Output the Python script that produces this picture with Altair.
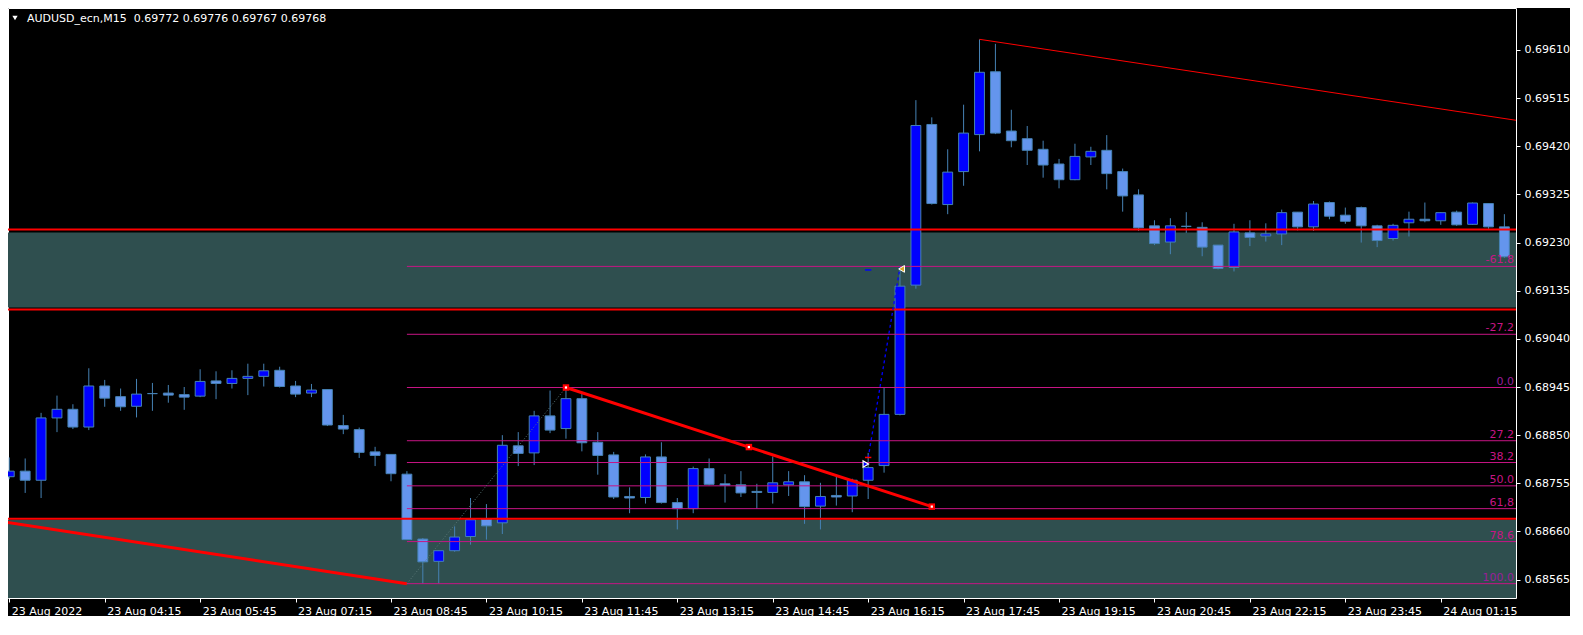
import altair as alt
import pandas as pd

# ---------------- data ----------------
opens = [0.68768, 0.68779, 0.68761, 0.68884, 0.68901, 0.68866, 0.68947, 0.68926, 0.68907, 0.68932,
         0.68933, 0.68930, 0.68927, 0.68957, 0.68952, 0.68962, 0.68966, 0.68978, 0.68947, 0.68933,
         0.68940, 0.68869, 0.68861, 0.68817, 0.68812, 0.68773, 0.68645, 0.68601, 0.68622, 0.68650,
         0.68684, 0.68677, 0.68829, 0.68815, 0.68888, 0.68863, 0.68922, 0.68836, 0.68811, 0.68729,
         0.68727, 0.68807, 0.68717, 0.68705, 0.68784, 0.68754, 0.68752, 0.68739, 0.68737, 0.68752,
         0.68758, 0.68710, 0.68731, 0.68730, 0.68761, 0.68790, 0.68891, 0.69146, 0.69463, 0.69305,
         0.69370, 0.69443, 0.69567, 0.69450, 0.69435, 0.69414, 0.69385, 0.69354, 0.69399, 0.69412,
         0.69370, 0.69324, 0.69263, 0.69231, 0.69262, 0.69260, 0.69225, 0.69181, 0.69249, 0.69243,
         0.69247, 0.69290, 0.69261, 0.69309, 0.69284, 0.69299, 0.69263, 0.69238, 0.69269, 0.69276,
         0.69273, 0.69290, 0.69266, 0.69307, 0.69261]
highs = [0.68806, 0.68804, 0.68894, 0.68928, 0.68911, 0.68982, 0.68959, 0.68942, 0.68961, 0.68953,
         0.68949, 0.68945, 0.68980, 0.68976, 0.68978, 0.68991, 0.68991, 0.68985, 0.68957, 0.68951,
         0.68941, 0.68890, 0.68865, 0.68827, 0.68812, 0.68779, 0.68647, 0.68622, 0.68670, 0.68726,
         0.68714, 0.68850, 0.68856, 0.68898, 0.68938, 0.68944, 0.68931, 0.68856, 0.68817, 0.68747,
         0.68812, 0.68836, 0.68726, 0.68788, 0.68804, 0.68773, 0.68779, 0.68754, 0.68808, 0.68779,
         0.68771, 0.68756, 0.68768, 0.68764, 0.68815, 0.68943, 0.69181, 0.69511, 0.69477, 0.69414,
         0.69502, 0.69631, 0.69622, 0.69492, 0.69460, 0.69431, 0.69395, 0.69425, 0.69419, 0.69442,
         0.69376, 0.69335, 0.69274, 0.69278, 0.69290, 0.69270, 0.69225, 0.69267, 0.69274, 0.69268,
         0.69295, 0.69290, 0.69312, 0.69311, 0.69299, 0.69301, 0.69265, 0.69267, 0.69291, 0.69309,
         0.69290, 0.69293, 0.69309, 0.69307, 0.69286]
lows = [0.68763, 0.68736, 0.68726, 0.68856, 0.68862, 0.68860, 0.68906, 0.68898, 0.68885, 0.68898,
        0.68914, 0.68900, 0.68925, 0.68921, 0.68942, 0.68929, 0.68946, 0.68944, 0.68925, 0.68925,
        0.68868, 0.68852, 0.68805, 0.68789, 0.68759, 0.68644, 0.68557, 0.68557, 0.68620, 0.68634,
        0.68644, 0.68655, 0.68789, 0.68791, 0.68854, 0.68843, 0.68818, 0.68772, 0.68724, 0.68696,
        0.68715, 0.68715, 0.68664, 0.68696, 0.68751, 0.68717, 0.68728, 0.68705, 0.68715, 0.68730,
        0.68675, 0.68664, 0.68711, 0.68698, 0.68724, 0.68776, 0.68889, 0.69139, 0.69305, 0.69286,
        0.69342, 0.69410, 0.69444, 0.69418, 0.69383, 0.69358, 0.69337, 0.69353, 0.69383, 0.69335,
        0.69291, 0.69253, 0.69225, 0.69207, 0.69249, 0.69203, 0.69177, 0.69173, 0.69223, 0.69232,
        0.69225, 0.69254, 0.69253, 0.69276, 0.69267, 0.69230, 0.69221, 0.69234, 0.69242, 0.69270,
        0.69265, 0.69263, 0.69265, 0.69257, 0.69200]
closes = [0.68779, 0.68761, 0.68884, 0.68901, 0.68866, 0.68947, 0.68923, 0.68906, 0.68931, 0.68932,
          0.68929, 0.68925, 0.68956, 0.68952, 0.68962, 0.68966, 0.68977, 0.68946, 0.68931, 0.68939,
          0.68870, 0.68862, 0.68816, 0.68810, 0.68774, 0.68644, 0.68600, 0.68622, 0.68649, 0.68683,
          0.68671, 0.68830, 0.68814, 0.68888, 0.68860, 0.68922, 0.68835, 0.68810, 0.68728, 0.68726,
          0.68807, 0.68717, 0.68705, 0.68784, 0.68753, 0.68751, 0.68736, 0.68737, 0.68756, 0.68758,
          0.68709, 0.68729, 0.68728, 0.68761, 0.68786, 0.68891, 0.69144, 0.69461, 0.69307, 0.69369,
          0.69446, 0.69566, 0.69446, 0.69431, 0.69412, 0.69383, 0.69354, 0.69400, 0.69410, 0.69366,
          0.69322, 0.69259, 0.69228, 0.69263, 0.69262, 0.69221, 0.69179, 0.69251, 0.69240, 0.69247,
          0.69289, 0.69261, 0.69306, 0.69282, 0.69272, 0.69263, 0.69234, 0.69264, 0.69276, 0.69273,
          0.69289, 0.69265, 0.69308, 0.69261, 0.69202]

x_tick_bars = [0, 6, 12, 18, 24, 30, 36, 42, 48, 54, 60, 66, 72, 78, 84, 90]
x_tick_labels = ["23 Aug 2022", "23 Aug 04:15", "23 Aug 05:45", "23 Aug 07:15", "23 Aug 08:45",
                 "23 Aug 10:15", "23 Aug 11:45", "23 Aug 13:15", "23 Aug 14:45", "23 Aug 16:15",
                 "23 Aug 17:45", "23 Aug 19:15", "23 Aug 20:45", "23 Aug 22:15", "23 Aug 23:45",
                 "24 Aug 01:15"]
price_ticks = [0.68565, 0.68660, 0.68755, 0.68850, 0.68945, 0.69040, 0.69135, 0.69230,
               0.69325, 0.69420, 0.69515, 0.69610]

fib_prices = [0.69183, 0.69049, 0.68944, 0.68839, 0.68796, 0.68750, 0.68705, 0.68640, 0.68557]
fib_labels = ["-61.8", "-27.2", "0.0", "27.2", "38.2", "50.0", "61,8", "78.6", "100.0"]
fib_colors = ["#C71585", "#C71585", "#9A1E9A", "#C71585", "#C71585", "#C71585", "#C71585", "#C71585", "#9A1E9A"]
fib_start_bar = 25

zone_tops = [0.69250, 0.68683]
zone_bottoms = [0.69102, 0.68450]
red_levels = [0.69256, 0.69098, 0.68685]

tl_low_bars = [-2, 25]
tl_low_prices = [0.68687, 0.68557]
tl_top_bars = [61, 95]
tl_top_prices = [0.69631, 0.69470]
tl_mid_bars = [35, 46.5, 58]
tl_mid_prices = [0.68944, 0.688265, 0.68709]
fib_trend_bars = [25, 35]
fib_trend_prices = [0.68557, 0.68944]
trade_bars = [54, 56]
trade_prices = [0.68805, 0.69181]

title_text = "AUDUSD_ecn,M15\u00a0 0.69772 0.69776 0.69767 0.69768"

# ---------------- layout ----------------
W, H = 1508, 590
X_DOM = [-0.08, 94.73]
Y_DOM = [0.685287, 0.696928]
FONT = "DejaVu Sans"
FS = 11

xs = alt.Scale(domain=X_DOM, nice=False, zero=False)
ys = alt.Scale(domain=Y_DOM, nice=False, zero=False)

label_expr = "[" + ",".join("'%s'" % s for s in x_tick_labels) + "][round(datum.value/6)]"
x_axis = alt.Axis(values=x_tick_bars, labelExpr=label_expr, title=None, grid=False, domain=False,
                  tickSize=4, tickColor="white", labelColor="white", labelFont=FONT, labelFontSize=FS,
                  labelAlign="left", labelBaseline="top", labelPadding=3, labelOffset=2,
                  labelOverlap=False, labelFlush=False, orient="bottom")
y_axis = alt.Axis(values=price_ticks, format=".5f", orient="right", title=None, grid=False, domain=False,
                  tickSize=4, tickColor="white", labelColor="white", labelFont=FONT, labelFontSize=FS,
                  labelPadding=4, labelBaseline="middle", labelOverlap=False, labelFlush=False)


def X(field):
    return alt.X(field, type="quantitative", scale=xs, axis=x_axis)


def Y(field):
    return alt.Y(field, type="quantitative", scale=ys, axis=y_axis)


candles = pd.DataFrame({"i": list(range(len(opens))), "o": opens, "h": highs, "l": lows, "c": closes})

zones = pd.DataFrame({"top": zone_tops, "bot": zone_bottoms, "x0": [-2] * 2, "x1": [97] * 2})
zone_layer = alt.Chart(zones).mark_rect(color="#2F4F4F", clip=True).encode(
    x=X("x0"), x2="x1", y=Y("top"), y2="bot")

wicks = alt.Chart(candles).mark_rule(color="#4682B4", strokeWidth=1, clip=True).encode(
    x=X("i"), y=Y("l"), y2="h")

bodies = alt.Chart(candles).transform_calculate(
    xa="datum.i - 0.31", xb="datum.i + 0.31").mark_rect(
    stroke="#4682B4", strokeWidth=1, clip=True).encode(
    x=X("xa"), x2="xb", y=Y("o"), y2="c",
    fill=alt.condition("datum.c > datum.o", alt.value("#0000FF"), alt.value("#6495ED")))

fib = pd.DataFrame({"p": fib_prices, "lab": fib_labels, "col": fib_colors,
                    "x0": [fib_start_bar] * len(fib_prices), "x1": [97] * len(fib_prices)})
fib_lines = alt.Chart(fib).mark_rule(color="#C71585", strokeWidth=1, clip=True).encode(
    x=X("x0"), x2="x1", y=Y("p"))
fib_text = alt.Chart(fib).mark_text(align="right", baseline="bottom", dy=-1, font=FONT, fontSize=FS).encode(
    x=alt.value(W - 2), y=Y("p"), text="lab:N", color=alt.Color("col:N", scale=None))

reds = pd.DataFrame({"p": red_levels, "x0": [-2] * 3, "x1": [97] * 3})
red_lines = alt.Chart(reds).mark_rule(color="#FF0000", strokeWidth=2, clip=True).encode(
    x=X("x0"), x2="x1", y=Y("p"))


def seg(bars, prices, **kw):
    df = pd.DataFrame({"i": bars, "p": prices})
    return alt.Chart(df).mark_line(clip=True, **kw).encode(x=X("i"), y=Y("p"))


tl_low = seg(tl_low_bars, tl_low_prices, color="#FF0000", strokeWidth=3)
tl_top = seg(tl_top_bars, tl_top_prices, color="#FF0000", strokeWidth=1)
tl_mid = seg(tl_mid_bars, tl_mid_prices, color="#FF0000", strokeWidth=3)
fib_trend = seg(fib_trend_bars, fib_trend_prices, color="#5A7878", strokeWidth=1, strokeDash=[1, 2])
trade_line = seg(trade_bars, trade_prices, color="#0000FF", strokeWidth=1.3, strokeDash=[3, 3])

mid_pts = pd.DataFrame({"i": tl_mid_bars, "p": tl_mid_prices})
sq_outer = alt.Chart(mid_pts).mark_point(shape="square", filled=True, color="#FF0000", size=42, opacity=1).encode(
    x=X("i"), y=Y("p"))
sq_inner = alt.Chart(mid_pts).mark_point(shape="square", filled=True, color="white", size=5, opacity=1).encode(
    x=X("i"), y=Y("p"))

close_mark = alt.Chart(pd.DataFrame({"i": [56.1], "p": [0.69178]})).mark_point(
    shape="triangle-left", filled=True, fill="#DAA520", stroke="white", strokeWidth=1, size=45, opacity=1).encode(
    x=X("i"), y=Y("p"))
open_mark = alt.Chart(pd.DataFrame({"i": [53.85], "p": [0.68793]})).mark_point(
    shape="triangle-right", filled=True, fill="#0000FF", stroke="white", strokeWidth=1.2, size=40, opacity=1).encode(
    x=X("i"), y=Y("p"))
dashes = pd.DataFrame({"x0": [53.8, 53.8], "x1": [54.2, 54.2], "p": [0.69176, 0.68806],
                       "col": ["#0000FF", "#FF0000"]})
dash_layer = alt.Chart(dashes).mark_rule(strokeWidth=1.5).encode(
    x=X("x0"), x2="x1", y=Y("p"), color=alt.Color("col:N", scale=None))

title_df = pd.DataFrame({"t": [title_text]})
title_layer = alt.Chart(title_df).mark_text(align="left", baseline="middle", font=FONT, fontSize=FS,
                                            color="white").encode(
    x=alt.value(19), y=alt.value(11), text="t:N")
tri_layer = alt.Chart(title_df).mark_point(shape="triangle-down", filled=True, color="white", size=28,
                                           opacity=1).encode(x=alt.value(7), y=alt.value(10))

chart = alt.layer(
    zone_layer, wicks, bodies, fib_lines, fib_text, red_lines,
    tl_low, tl_top, tl_mid, fib_trend, trade_line,
    sq_outer, sq_inner, close_mark, open_mark, dash_layer,
    title_layer, tri_layer
).properties(width=W, height=H, background="black", padding=0).configure_view(
    stroke="white", strokeWidth=1)

chart.save("out.html", embed_options={"renderer": "svg", "actions": False})
